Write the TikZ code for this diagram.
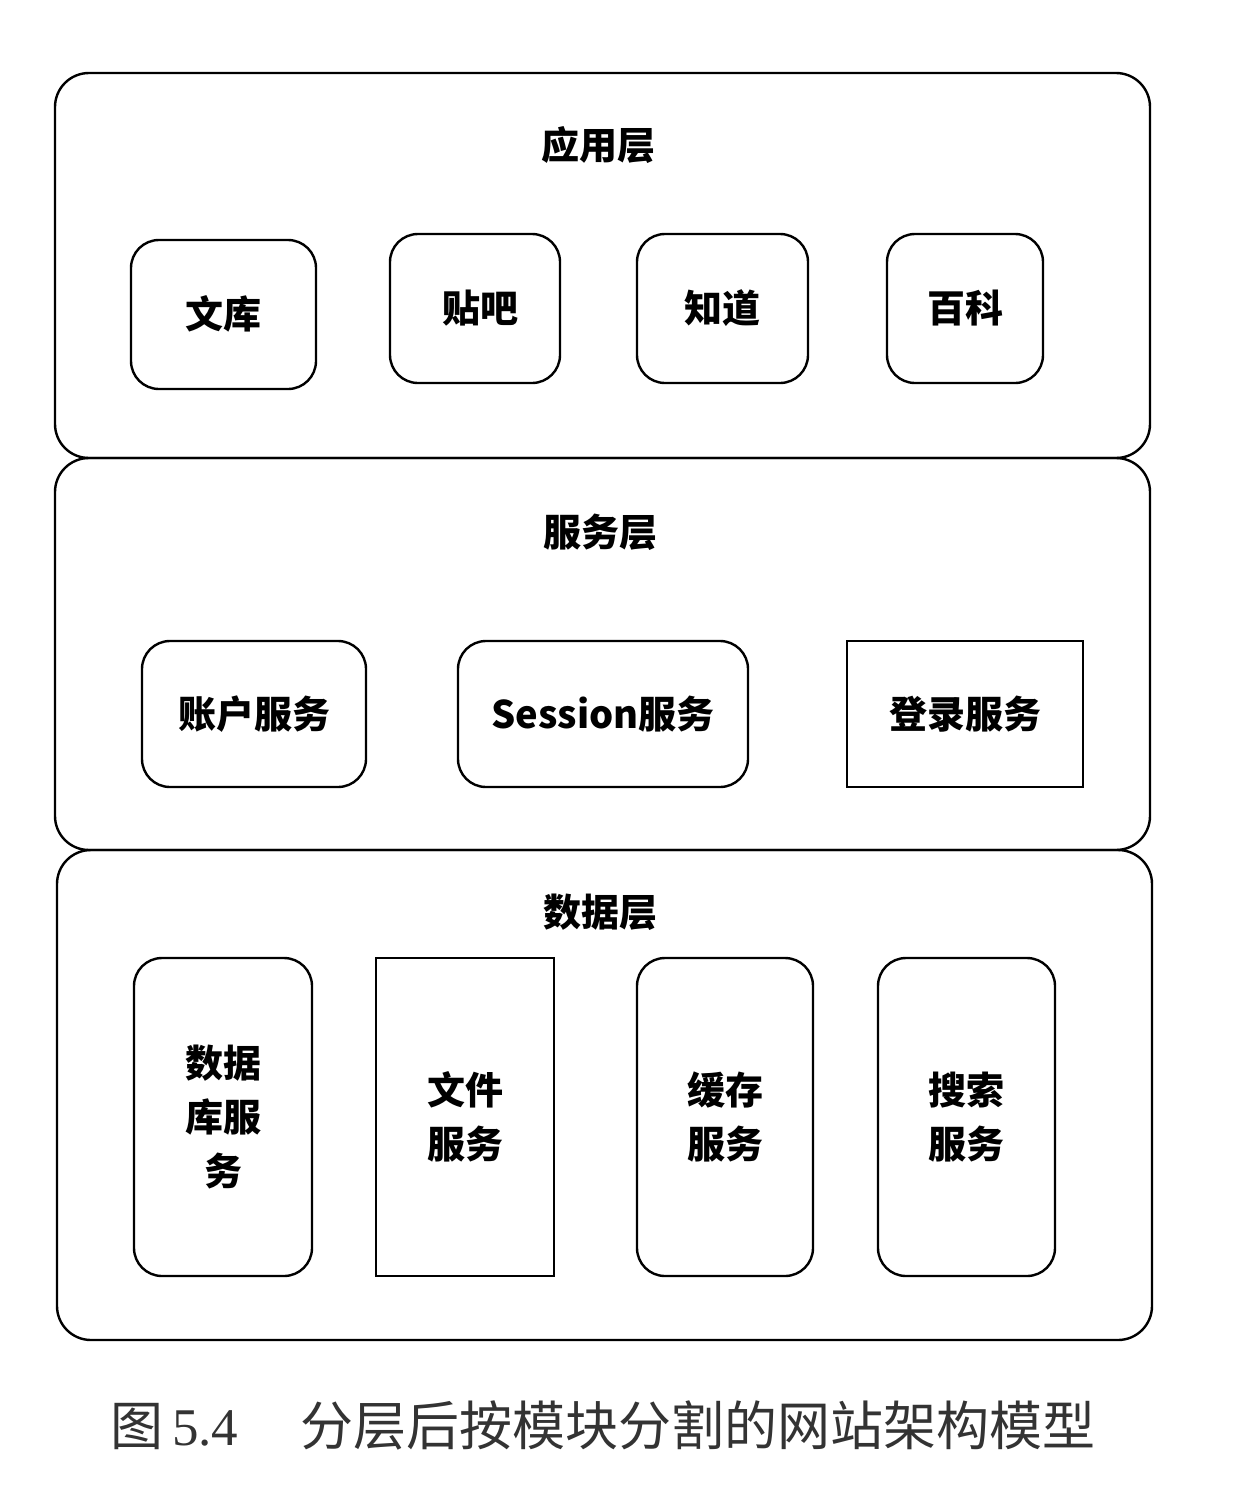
\documentclass[tikz,border=0pt]{standalone}
\usepackage{fontspec}
\setmainfont{Noto Sans CJK SC}
\newfontfamily\capfont{Noto Sans CJK SC}
\newfontfamily\numfont{Liberation Serif}
\begin{document}
\begin{tikzpicture}[x=1pt,y=-1pt,
  layer/.style={draw, line width=2.4pt, rounded corners=34pt, inner sep=0pt},
  rbox/.style={draw, line width=2.4pt, rounded corners=28pt, inner sep=0pt, align=center,
     font=\fontsize{38}{54}\selectfont\bfseries},
  sbox/.style={draw, line width=2.2pt, inner sep=0pt, align=center,
     font=\fontsize{38}{54}\selectfont\bfseries},
  ttl/.style={font=\fontsize{38}{46}\selectfont\bfseries, inner sep=0pt}]
\useasboundingbox (0,0) rectangle (1250,1494);
% layers
\node[layer, minimum width=1095pt, minimum height=385pt] (L1) at (602.5,265.5) {};
\node[layer, minimum width=1095pt, minimum height=392pt] (L2) at (602.5,654) {};
\node[layer, minimum width=1095pt, minimum height=490pt] (L3) at (604.5,1095) {};
% titles
\node[ttl] (t1) at (598,145) {应用层};
\node[ttl] (t2) at (600,532) {服务层};
\node[ttl] (t3) at (600,912) {数据层};
% application layer
\node[rbox, minimum width=185pt, minimum height=149pt] (wk) at (223.5,314.5) {\raisebox{5pt}{文库}};
\node[rbox, minimum width=170pt, minimum height=149pt] (tb) at (475,308.5) {\hspace*{10pt}贴吧};
\node[rbox, minimum width=171pt, minimum height=149pt] (zd) at (722.5,308.5) {知道};
\node[rbox, minimum width=156pt, minimum height=149pt] (bk) at (965,308.5) {百科};
% service layer
\node[rbox, minimum width=224pt, minimum height=146pt] (zh) at (254,714) {账户服务};
\node[rbox, minimum width=290pt, minimum height=146pt] (ss) at (603,714) {Session服务};
\node[sbox, minimum width=236pt, minimum height=146pt] (dl) at (965,714) {登录服务};
% data layer
\node[rbox, minimum width=178pt, minimum height=318pt] (sjk) at (223,1117) {数据\\库服\\务};
\node[sbox, minimum width=178pt, minimum height=318pt] (wj) at (465,1117) {文件\\服务};
\node[rbox, minimum width=176pt, minimum height=318pt] (hc) at (725,1117) {缓存\\服务};
\node[rbox, minimum width=177pt, minimum height=318pt] (ssu) at (966.5,1117) {搜索\\服务};
% caption
\node[anchor=west, inner sep=0pt, text=black!80, font=\fontsize{53}{60}\selectfont] (cap) at (110,1425)
  {\capfont 图\,{\numfont 5.4}\hspace{62pt}分层后按模块分割的网站架构模型};
\end{tikzpicture}
\end{document}
